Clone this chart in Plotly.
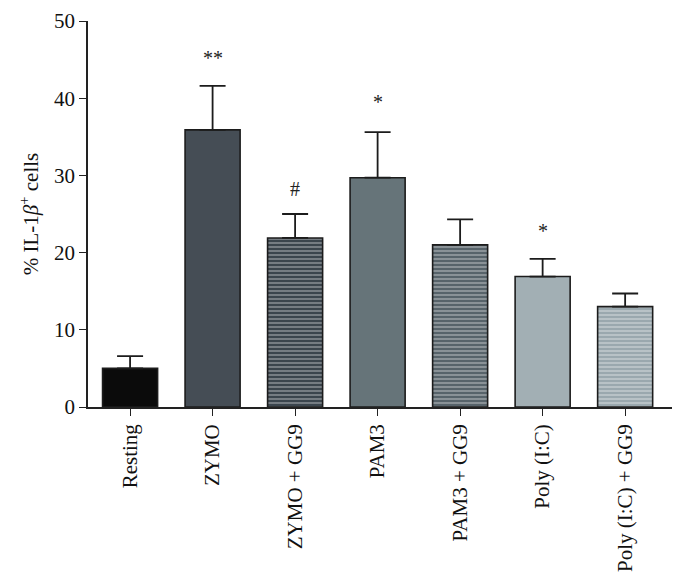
import plotly.graph_objects as go

categories = ["Resting", "ZYMO", "ZYMO + GG9", "PAM3", "PAM3 + GG9", "Poly (I:C)", "Poly (I:C) + GG9"]
values = [5.0, 35.9, 21.9, 29.7, 21.0, 16.9, 13.0]
errors = [1.6, 5.7, 3.1, 5.9, 3.3, 2.3, 1.7]
significance = ["", "**", "#", "*", "", "*", ""]
sig_y = [0, 45.2, 28.2, 39.5, 0, 22.8, 0]
colors = ["#0b0b0b", "#454d55", "#3b454d", "#667479", "#57636a", "#a2afb4", "#9aa8ae"]
patterned = [False, False, True, False, True, False, True]
tick_vals = [0, 10, 20, 30, 40, 50]

FONT = "Liberation Serif"

fig = go.Figure()
for i, c in enumerate(categories):
    marker = dict(color=colors[i], line=dict(color="#1c1c1c", width=1.6))
    if patterned[i]:
        marker["pattern"] = dict(shape="-", fgcolor="#ffffff", bgcolor=colors[i],
                                 size=4, solidity=0.3, fillmode="overlay")
    fig.add_trace(go.Bar(
        x=[c], y=[values[i]], marker=marker, width=0.667,
        error_y=dict(type="data", array=[errors[i]], arrayminus=[0], symmetric=False,
                     color="#1c1c1c", thickness=1.8, width=13),
        showlegend=False,
    ))

for i, s in enumerate(significance):
    if s:
        fig.add_annotation(x=categories[i], y=sig_y[i], text=s, showarrow=False,
                           font=dict(family=FONT, size=20, color="#222"), yanchor="middle")

fig.update_layout(
    width=672, height=578,
    margin=dict(l=80, r=7, t=13, b=179, autoexpand=False),
    plot_bgcolor="white", paper_bgcolor="white",
    font=dict(family=FONT, size=21, color="#111"),
)
fig.update_xaxes(
    range=[-0.51, 6.58], showline=True, linecolor="#222", linewidth=1.6,
    ticks="outside", ticklen=7, tickcolor="#222", tickwidth=1.4,
    tickangle=-90, tickfont=dict(family=FONT, size=21, color="#111"),
    showgrid=False, zeroline=False, automargin=False,
)
fig.update_yaxes(
    range=[0, 50], tickvals=tick_vals, showline=True, linecolor="#222", linewidth=1.6,
    ticks="outside", ticklen=7, tickcolor="#222", tickwidth=1.4,
    tickfont=dict(family=FONT, size=21, color="#111"),
    showgrid=False, zeroline=False, automargin=False,
    title=dict(text="% IL-1<i>β</i><sup>+</sup> cells", font=dict(family=FONT, size=21, color="#111"), standoff=10),
)

fig.write_html("out.html")
